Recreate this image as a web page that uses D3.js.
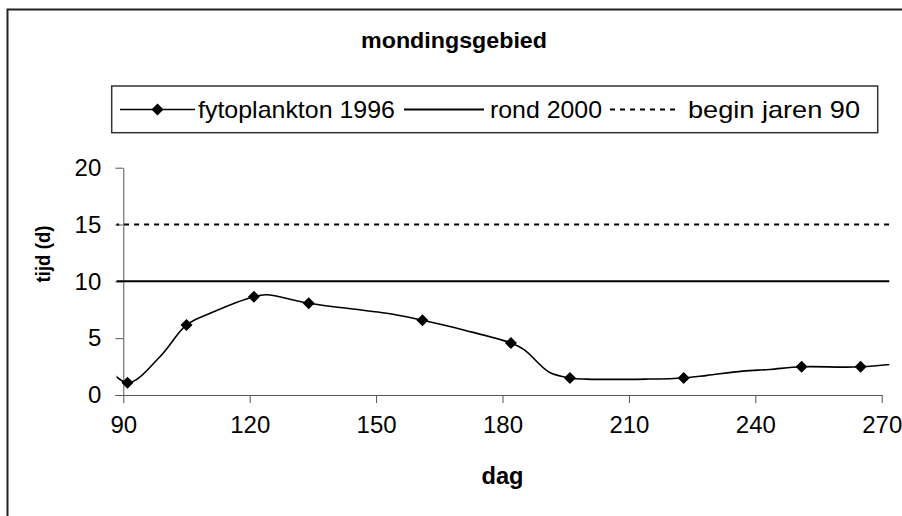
<!DOCTYPE html>
<html><head><meta charset="utf-8">
<script src="https://cdn.jsdelivr.net/npm/d3@7"></script>
<style>body{margin:0;background:#fff}svg{display:block}text{font-family:"Liberation Sans",Arial,sans-serif;fill:#000}</style>
</head><body><svg id="c" width="902" height="516"></svg>
<script>
const title = "mondingsgebied";
const xLabel = "dag";
const yLabel = "tijd (d)";
const xTicks = [90, 120, 150, 180, 210, 240, 270];
const yTicks = [0, 5, 10, 15, 20];
const seriesNames = ["fytoplankton 1996", "rond 2000", "begin jaren 90"];
const markerDays = [91, 105, 121, 134, 161, 182, 196, 223, 251, 265];
const markerValues = [1.08, 6.16, 8.65, 8.07, 6.57, 4.57, 1.5, 1.5, 2.48, 2.48];
const curveDays = [84, 91, 98.7, 105, 110.6, 121, 124, 134, 154, 161, 171, 182, 185.2, 191, 196, 200, 214, 223, 228.6, 237, 243.4, 251, 265, 280];
const curveValues = [3.4, 1.08, 3.37, 6.16, 7.19, 8.65, 8.82, 8.07, 7.1, 6.57, 5.7, 4.57, 3.97, 2.03, 1.5, 1.4, 1.4, 1.5, 1.73, 2.1, 2.25, 2.48, 2.48, 3.0];
const rondDays = [0, 365];
const rondValues = [10, 10];
const beginDays = [0, 365];
const beginValues = [15, 15];

const svg = d3.select("#c");
const x = d3.scaleLinear().domain([90, 270]).range([123.3, 881.7]);
const y = d3.scaleLinear().domain([0, 20]).range([395, 167.7]);
const clipDays = [88.4, 271.8];
const FONT = '"Liberation Sans",Arial,sans-serif';

// outer frame
svg.append("rect").attr("x", 7.5).attr("y", 9.5).attr("width", 1000).attr("height", 1000)
  .attr("fill", "none").attr("stroke", "#222").attr("stroke-width", 2);

// title
svg.append("text").attr("x", 454).attr("y", 48).attr("text-anchor", "middle")
  .attr("font-size", 22).attr("font-weight", "bold").attr("textLength", 186).attr("lengthAdjust", "spacingAndGlyphs").text(title);

// axes
const gx = svg.append("g").attr("transform", "translate(0,395)")
  .call(d3.axisBottom(x).tickValues(xTicks).tickSize(8).tickSizeOuter(0).tickPadding(13).tickFormat(d3.format("d")));
const gy = svg.append("g").attr("transform", "translate(123.3,0)")
  .call(d3.axisLeft(y).tickValues(yTicks).tickSize(8).tickSizeOuter(0).tickPadding(14).tickFormat(d3.format("d")));
[gx, gy].forEach(g => {
  g.select(".domain").attr("stroke", "#555");
  g.selectAll(".tick line").attr("stroke", "#555");
  g.selectAll(".tick text").attr("font-size", 24).attr("font-family", FONT).attr("fill", "#000");
});

// axis titles
svg.append("text").attr("x", 502.5).attr("y", 484).attr("text-anchor", "middle")
  .attr("font-size", 23).attr("font-weight", "bold").attr("textLength", 42).attr("lengthAdjust", "spacingAndGlyphs").text(xLabel);
svg.append("text").attr("transform", "translate(50,254) rotate(-90)").attr("text-anchor", "middle")
  .attr("font-size", 21).attr("font-weight", "bold").attr("textLength", 57).attr("lengthAdjust", "spacingAndGlyphs").text(yLabel);

// clip
svg.append("clipPath").attr("id", "pc").append("rect")
  .attr("x", x(clipDays[0])).attr("y", 0).attr("width", x(clipDays[1]) - x(clipDays[0])).attr("height", 516);
const plot = svg.append("g").attr("clip-path", "url(#pc)");

const hline = d3.line().x(d => x(d[0])).y(d => y(d[1]));
plot.append("path").datum(d3.zip(beginDays, beginValues)).attr("d", hline)
  .attr("fill", "none").attr("stroke", "#000").attr("stroke-width", 2).attr("stroke-dasharray", "5,5");
plot.append("path").datum(d3.zip(rondDays, rondValues)).attr("d", hline)
  .attr("fill", "none").attr("stroke", "#000").attr("stroke-width", 2);
const cline = d3.line().x(d => x(d[0])).y(d => y(d[1])).curve(d3.curveCatmullRom.alpha(0.5));
plot.append("path").datum(d3.zip(curveDays, curveValues)).attr("d", cline)
  .attr("fill", "none").attr("stroke", "#000").attr("stroke-width", 1.6);

const diamond = "M0,-6L6,0L0,6L-6,0Z";
svg.append("g").selectAll("path").data(d3.zip(markerDays, markerValues)).join("path")
  .attr("d", diamond).attr("transform", d => `translate(${x(d[0])},${y(d[1])})`).attr("fill", "#000");

// legend
const lg = svg.append("g");
lg.append("rect").attr("x", 111.7).attr("y", 86).attr("width", 766).attr("height", 46.7)
  .attr("fill", "#fff").attr("stroke", "#333").attr("stroke-width", 1.5);
const ly = 109.5;
const legendItems = [
  {name: seriesNames[0], x1: 120, x2: 195, tx: 198, tw: 197, dash: null, marker: true},
  {name: seriesNames[1], x1: 404, x2: 484, tx: 490, tw: 112, dash: null, marker: false},
  {name: seriesNames[2], x1: 610, x2: 679, tx: 688, tw: 172, dash: "5,5", marker: false}
];
legendItems.forEach(it => {
  lg.append("line").attr("x1", it.x1).attr("x2", it.x2).attr("y1", ly).attr("y2", ly)
    .attr("stroke", "#000").attr("stroke-width", it.marker ? 1.6 : 2).attr("stroke-dasharray", it.dash);
  if (it.marker) lg.append("path").attr("d", diamond).attr("transform", `translate(${(it.x1 + it.x2) / 2},${ly})`);
  lg.append("text").attr("x", it.tx).attr("y", ly + 8).attr("font-size", 24)
    .attr("textLength", it.tw).attr("lengthAdjust", "spacingAndGlyphs").text(it.name);
});
</script></body></html>
